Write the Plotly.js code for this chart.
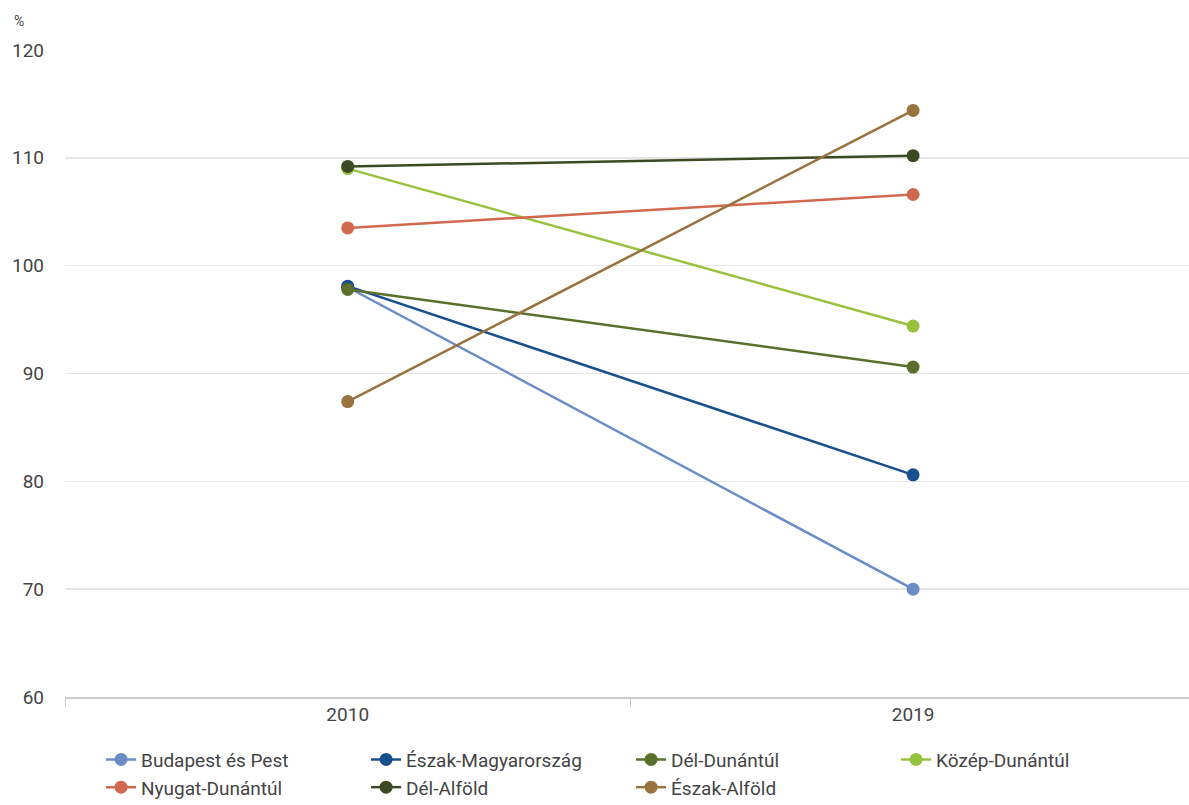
<!DOCTYPE html>
<html>
<head>
<meta charset="utf-8">
<script src="https://cdn.plot.ly/plotly-3.0.1.min.js"></script>
<style>html,body{margin:0;padding:0;background:#fff;}#chart{width:1189px;height:805px;}</style>
</head>
<body>
<div id="chart"></div>
<script>
const years = ['2010', '2019'];
const seriesNames = ['Budapest és Pest', 'Észak-Magyarország', 'Dél-Dunántúl', 'Közép-Dunántúl', 'Nyugat-Dunántúl', 'Dél-Alföld', 'Észak-Alföld'];
const budapestPest = [98.0, 70.0];
const eszakMagyarorszag = [98.1, 80.6];
const delDunantul = [97.8, 90.6];
const kozepDunantul = [109.0, 94.4];
const nyugatDunantul = [103.5, 106.6];
const delAlfold = [109.2, 110.2];
const eszakAlfold = [87.4, 114.4];
const yTicks = [60, 70, 80, 90, 100, 110, 120];

const allValues = [budapestPest, eszakMagyarorszag, delDunantul, kozepDunantul, nyugatDunantul, delAlfold, eszakAlfold];
const colors = ['#6a8cc7', '#1a4f8d', '#5b6f2d', '#98c23d', '#d0694f', '#3b4a22', '#98723f'];

const traces = allValues.map((vals, i) => ({
  type: 'scatter',
  mode: 'lines+markers',
  name: seriesNames[i],
  x: years,
  y: vals,
  line: {color: colors[i], width: 2.5},
  marker: {color: colors[i], size: 13},
  hoverinfo: 'name+y'
}));

const layout = {
  width: 1189,
  height: 805,
  margin: {l: 65, r: 0, t: 50, b: 108},
  paper_bgcolor: '#ffffff',
  plot_bgcolor: '#ffffff',
  font: {family: 'Roboto, "DejaVu Sans", sans-serif', size: 19, color: '#444444'},
  showlegend: true,
  xaxis: {
    type: 'category',
    range: [-0.5, 1.488],
    tickson: 'boundaries',
    ticks: 'outside',
    ticklen: 8,
    tickcolor: '#cccccc',
    showgrid: false,
    showline: true,
    linecolor: '#cccccc',
    linewidth: 1.5,
    zeroline: false,
    tickfont: {size: 19, color: '#444444'},
    fixedrange: true
  },
  yaxis: {
    range: [60, 120],
    tickvals: yTicks,
    showgrid: true,
    gridcolor: '#e6e6e6',
    gridwidth: 1.5,
    zeroline: false,
    showline: false,
    ticks: '',
    ticklabelstandoff: 20,
    tickfont: {size: 19, color: '#444444'},
    fixedrange: true
  },
  legend: {
    orientation: 'h',
    xref: 'container',
    yref: 'container',
    x: 0.085,
    xanchor: 'left',
    y: 0.08,
    yanchor: 'top',
    entrywidth: 220,
    entrywidthmode: 'pixels',
    itemwidth: 30,
    tracegroupgap: 0,
    font: {size: 19, color: '#444444'}
  },
  annotations: [{
    text: '%',
    xref: 'paper', yref: 'paper',
    x: -0.047, y: 1.03,
    xanchor: 'left', yanchor: 'bottom',
    showarrow: false,
    font: {size: 14, color: '#444444'}
  }]
};

Plotly.newPlot('chart', traces, layout, {displayModeBar: false, staticPlot: true});
</script>
</body>
</html>
